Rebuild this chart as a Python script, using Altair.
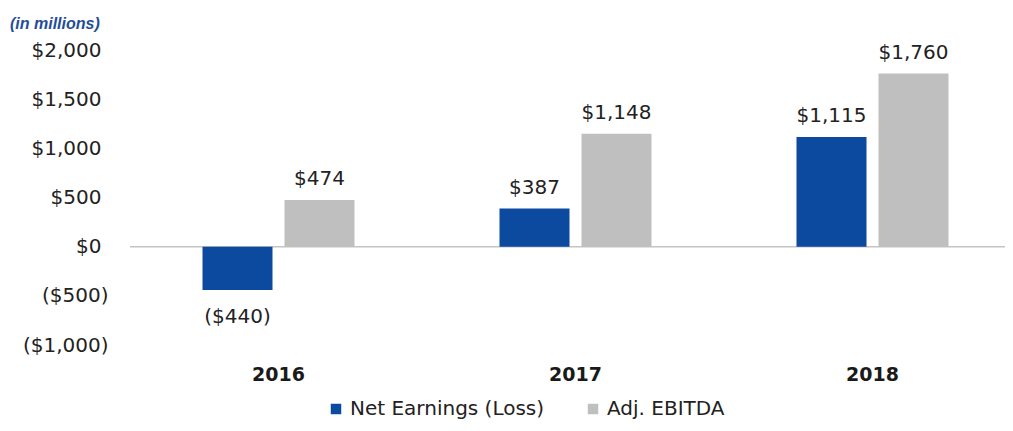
import altair as alt
import pandas as pd

years = ["2016", "2017", "2018"]
series = ["Net Earnings (Loss)", "Adj. EBITDA"]
net_earnings = [-440, 387, 1115]
adj_ebitda = [474, 1148, 1760]
colors = ["#0b4a9f", "#bfbfbf"]
y_ticks = [-1000, -500, 0, 500, 1000, 1500, 2000]


def fmt(v):
    return f"(${-v:,})" if v < 0 else f"${v:,}"


rows = []
for yr, a, b in zip(years, net_earnings, adj_ebitda):
    rows.append({"year": yr, "series": series[0], "value": a, "label": fmt(a)})
    rows.append({"year": yr, "series": series[1], "value": b, "label": fmt(b)})
df = pd.DataFrame(rows)

FONT = "DejaVu Sans"
W, H = 875, 295

x = alt.X(
    "year:N",
    sort=years,
    scale=alt.Scale(range=[0, 891], paddingInner=0, paddingOuter=0),
    axis=alt.Axis(
        title=None, labelFont=FONT, labelFontSize=19, labelFontWeight="bold",
        labelColor="#1a1a1a", labelAngle=0, domain=False, ticks=False, labelPadding=20,
    ),
)
xo = alt.XOffset("series:N", sort=series,
                 scale=alt.Scale(paddingInner=0.1463, paddingOuter=0.884))
y = alt.Y(
    "value:Q",
    scale=alt.Scale(domain=[-1000, 2000], nice=False),
    axis=alt.Axis(
        title=None, values=y_ticks,
        labelExpr="datum.value < 0 ? '($' + format(-datum.value, ',') + ')' : '$' + format(datum.value, ',')",
        grid=False, domain=False, ticks=False, labelFont=FONT, labelFontSize=20,
        labelColor="#222222",
        labelPadding={"condition": {"test": "datum.value < 0", "value": 22}, "value": 29},
    ),
)

base = alt.Chart(df)

zero = alt.Chart(pd.DataFrame({"zero": [0]})).mark_rule(color="#c4c4c4", strokeWidth=1.5).encode(
    y=alt.Y("zero:Q")
)

bars = base.mark_bar().encode(
    x=x, xOffset=xo, y=y,
    color=alt.Color(
        "series:N",
        scale=alt.Scale(domain=series, range=colors),
        legend=alt.Legend(
            title=None, orient="none", legendX=196, legendY=349, direction="horizontal",
            symbolType="square", symbolSize=110, symbolStrokeWidth=0,
            labelFont=FONT, labelFontSize=20, labelColor="#222222", labelLimit=0,
            columnPadding=38, labelOffset=4,
        ),
    ),
)

pos_labels = base.transform_filter("datum.value >= 0").mark_text(
    dy=-21, baseline="middle", font=FONT, fontSize=20, color="#222222"
).encode(x=x, xOffset=xo, y=y, text="label:N")

neg_labels = base.transform_filter("datum.value < 0").mark_text(
    dy=27, baseline="middle", font=FONT, fontSize=20, color="#222222"
).encode(x=x, xOffset=xo, y=y, text="label:N")

chart = alt.layer(zero, bars, pos_labels, neg_labels).properties(
    width=W, height=H,
    title=alt.TitleParams(
        "(in millions)", anchor="start", frame="group", dx=-120, dy=-4,
        font="Liberation Sans", fontSize=16, fontStyle="italic", fontWeight="bold",
        color="#1f4e99",
    ),
    padding={"left": 122, "top": 42, "right": 0, "bottom": 78},
    autosize=alt.AutoSizeParams(type="none"),
).configure_view(stroke=None)

chart.save("out.html", embed_options={"renderer": "svg", "actions": False})
